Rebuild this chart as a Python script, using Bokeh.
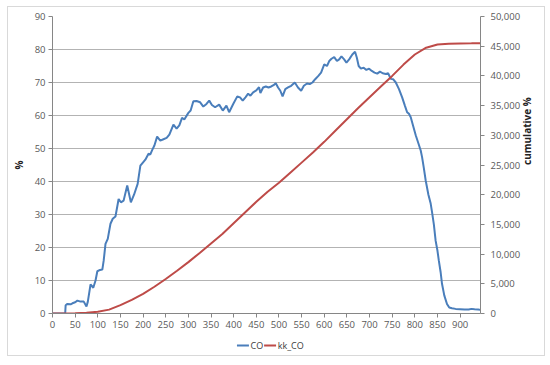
import math
from bokeh.plotting import figure
from bokeh.layouts import column
from bokeh.models import Range1d, LinearAxis, FixedTicker, NumeralTickFormatter
from bokeh.core.properties import value
from bokeh.embed import file_html
from bokeh.resources import INLINE

# ---- data ----
co_x = [0, 28, 29, 33, 40, 44, 50, 55, 62, 69, 75, 78, 84, 90, 95, 99, 105, 110, 113, 117,
        122, 128, 133, 139, 146, 151, 157, 165, 173, 180, 188, 194, 200, 205, 212, 216, 220,
        225, 231, 238, 245, 252, 258, 267, 274, 280, 286, 291, 300, 305, 311, 318, 326, 333,
        340, 346, 352, 359, 368, 376, 384, 390, 399, 408, 414, 420, 426, 432, 437, 443, 450,
        456, 459, 465, 471, 477, 483, 488, 493, 498, 503, 508, 514, 520, 527, 535, 542, 549,
        555, 562, 568, 574, 580, 587, 593, 600, 606, 611, 616, 622, 628, 633, 638, 644, 649,
        655, 662, 668, 672, 676, 681, 687, 693, 699, 705, 711, 717, 723, 729, 736, 741, 747,
        752, 758, 765, 772, 778, 783, 787, 791, 796, 802, 808, 813, 816, 820, 824, 830, 835,
        838, 842, 846, 850, 853, 857, 860, 865, 871, 876, 882, 890, 900, 910, 919, 925, 932,
        940, 945]
co_y = [0, 0, 2.5, 2.9, 2.8, 3.1, 3.4, 3.9, 3.6, 3.6, 2.1, 3.6, 8.8, 7.8, 10, 12.8, 13.2, 13.3, 16, 21.1,
        22.6, 27.2, 28.7, 29.4, 34.7, 33.7, 34.2, 38.8, 33.7, 36, 39.3, 44.8, 45.8, 46.6, 48.4, 48.2, 49.5,
        50.9, 53.6, 52.4, 52.8, 53.2, 54.2, 57.2, 56, 57, 59.3, 58.8, 60.8, 61.5, 64.3, 64.4, 64, 62.7,
        63.5, 64.5, 63.2, 62.5, 63.3, 61.5, 63, 61, 63.5, 65.8, 65.5, 64.5, 65.5, 66.6, 66, 67, 67.6,
        68.6, 66.8, 68.5, 68.8, 68.5, 68.8, 69.2, 69.8, 68.5, 67.5, 65.8, 68, 68.5, 69, 70, 68.5, 67.5,
        69, 69.7, 69.5, 70, 71, 72, 73, 75.5, 75, 76.5, 77.2, 77.7, 76.5, 77, 77.9, 77, 76,
        77, 78.5, 79.3, 77.5, 75, 74.2, 74.5, 73.8, 74.2, 73.5, 73, 72.7, 73.3, 72.8, 72.6, 72.8, 71.1,
        71, 70, 68, 65.5, 63, 61, 60.5, 59.5, 57, 54, 51.5, 49.4, 47.4, 44, 40.3, 36, 33.3,
        30.7, 27, 22, 19, 16, 12.5, 9, 5.5, 2.9, 1.8, 1.6, 1.4, 1.3, 1.2, 1.2, 1.4, 1.3,
        1.2, 1.1]

kk_x = [0, 25, 50, 75, 100, 125, 150, 175, 200, 225, 250, 275, 300, 325, 350, 375, 400, 425,
        450, 475, 500, 525, 550, 575, 600, 625, 650, 675, 700, 725, 750, 775, 800, 825, 850,
        875, 900, 925, 945]
kk_y = [0, 0, 40, 120, 280, 650, 1400, 2300, 3300, 4500, 5800, 7200, 8650, 10200, 11800, 13400,
        15200, 17000, 18800, 20500, 22000, 23700, 25400, 27100, 28900, 30800, 32700, 34600, 36400,
        38200, 40000, 41900, 43600, 44750, 45300, 45430, 45460, 45480, 45500]

series_names = ["CO", "kk_CO"]
series_colors = ["#4a7ebb", "#be4b48"]

x_ticks = list(range(0, 901, 50))
left_ticks = list(range(0, 91, 10))
right_ticks = list(range(0, 50001, 5000))

FONT = "Open Sans"
TICK_COLOR = "#595959"
AXIS_COLOR = "#868686"
W = 536

p = figure(width=W, height=330, output_backend="svg", toolbar_location=None,
           x_range=Range1d(0, 945), y_range=Range1d(0, 90),
           min_border_left=44, min_border_right=62, min_border_top=9, min_border_bottom=24)
p.outline_line_color = None
p.background_fill_color = "white"
p.border_fill_color = "white"
p.extra_y_ranges = {"cum": Range1d(0, 50000)}

# grid
p.xgrid.grid_line_color = None
p.ygrid.grid_line_color = "#b3b3b3"
p.ygrid.grid_line_width = 1

def style_axis(ax):
    ax.axis_line_color = AXIS_COLOR
    ax.major_tick_line_color = AXIS_COLOR
    ax.major_tick_out = 4
    ax.major_tick_in = 0
    ax.minor_tick_line_color = None
    ax.major_label_text_font = FONT
    ax.major_label_text_font_size = "9.5px"
    ax.major_label_text_color = TICK_COLOR
    ax.axis_label_text_font = FONT
    ax.axis_label_text_font_size = "10px"
    ax.axis_label_text_font_style = "bold"
    ax.axis_label_text_color = "#222222"

xa = p.xaxis[0]
style_axis(xa)
xa.ticker = FixedTicker(ticks=x_ticks)
xa.major_label_standoff = 3

ya = p.yaxis[0]
style_axis(ya)
ya.ticker = FixedTicker(ticks=left_ticks)
ya.axis_label = "%"
ya.major_label_standoff = 3
ya.axis_label_standoff = 6
p.ygrid.ticker = FixedTicker(ticks=left_ticks)

ra = LinearAxis(y_range_name="cum", ticker=FixedTicker(ticks=right_ticks),
                formatter=NumeralTickFormatter(format="0,0"), axis_label="cumulative %")
style_axis(ra)
ra.major_label_standoff = 6
ra.axis_label_standoff = 4
try:
    ra.axis_label_orientation = math.pi / 2
except Exception:
    pass
p.add_layout(ra, "right")

p.line(co_x, co_y, line_color=series_colors[0], line_width=2)
p.line(kk_x, kk_y, line_color=series_colors[1], line_width=2, y_range_name="cum")

# ---- legend strip below the chart (pixel-scaled ranges) ----
LH = 18
lg = figure(width=W, height=LH, output_backend="svg", toolbar_location=None,
            x_axis_location=None, y_axis_location=None,
            x_range=Range1d(0, W), y_range=Range1d(0, LH),
            min_border_left=0, min_border_right=0, min_border_top=0, min_border_bottom=0)
lg.grid.visible = False
lg.outline_line_color = None
lg.background_fill_color = "white"
lg.border_fill_color = "white"

key_x0 = [231, 265]       # layout positions of the legend keys (px)
key_len = 15
key_y = 10
lg.segment(x0=key_x0, y0=[key_y] * 2, x1=[k + key_len for k in key_x0], y1=[key_y] * 2,
           line_color=series_colors, line_width=2)
lg.text(x=[k + key_len + 2 for k in key_x0], y=[key_y] * 2, text=series_names,
        text_font=value(FONT), text_font_size="9px", text_color="#404040",
        text_baseline="middle", text_align="left")

layout = column(p, lg, spacing=0)
layout.styles = {"margin-left": "7px", "margin-top": "6px", "border": "1px solid #d9d9d9"}

open("out.html", "w").write(file_html(layout, INLINE))
